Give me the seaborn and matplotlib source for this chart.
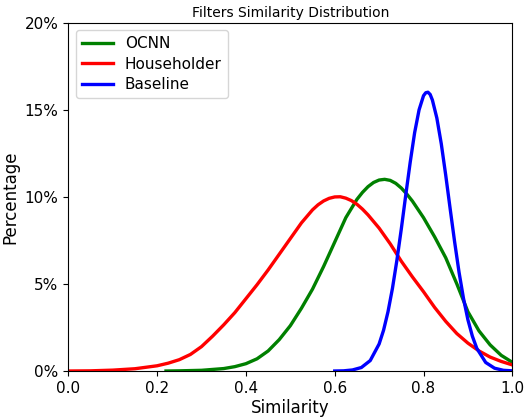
import numpy as np
import pandas as pd
import matplotlib
matplotlib.use('Agg')
import matplotlib.pyplot as plt
from matplotlib.ticker import PercentFormatter
import seaborn as sns

# Values (x = similarity, y = percentage)
ocnn_x = [0.22, 0.25, 0.30, 0.35, 0.375, 0.40, 0.425, 0.45, 0.475, 0.50, 0.525,
          0.55, 0.575, 0.60, 0.625, 0.65, 0.6625, 0.675, 0.6875, 0.70, 0.7125,
          0.725, 0.7375, 0.75, 0.7625, 0.775, 0.80, 0.825, 0.85, 0.875, 0.90,
          0.925, 0.95, 0.975, 1.00]
ocnn_y = [0.0, 0.01, 0.04, 0.14, 0.25, 0.42, 0.7, 1.15, 1.8, 2.6, 3.6,
          4.7, 6.0, 7.4, 8.8, 9.85, 10.25, 10.58, 10.82, 10.96, 11.0,
          10.94, 10.77, 10.5, 10.15, 9.75, 8.8, 7.7, 6.5, 5.0, 3.4,
          2.3, 1.5, 0.9, 0.5]

house_x = [0.00, 0.05, 0.10, 0.15, 0.20, 0.225, 0.25, 0.275, 0.30, 0.325, 0.35,
           0.375, 0.40, 0.425, 0.45, 0.475, 0.50, 0.525, 0.55, 0.5625, 0.575,
           0.5875, 0.60, 0.6125, 0.625, 0.6375, 0.65, 0.6625, 0.675, 0.70,
           0.725, 0.75, 0.775, 0.80, 0.825, 0.85, 0.875, 0.90, 0.925, 0.95,
           0.975, 1.00]
house_y = [0.0, 0.01, 0.05, 0.13, 0.3, 0.45, 0.65, 0.95, 1.4, 2.0, 2.65,
           3.35, 4.15, 4.95, 5.8, 6.7, 7.6, 8.5, 9.25, 9.54, 9.76,
           9.91, 9.99, 10.0, 9.92, 9.78, 9.57, 9.29, 8.96, 8.2,
           7.3, 6.3, 5.4, 4.55, 3.65, 2.85, 2.15, 1.6, 1.15, 0.8,
           0.55, 0.35]

base_x = [0.60, 0.62, 0.64, 0.66, 0.68, 0.70, 0.71, 0.72, 0.73, 0.74, 0.75,
          0.76, 0.77, 0.78, 0.79, 0.80, 0.805, 0.81, 0.815, 0.82, 0.83, 0.84,
          0.85, 0.86, 0.87, 0.88, 0.89, 0.90, 0.91, 0.92, 0.94, 0.96, 0.98, 1.00]
base_y = [0.0, 0.01, 0.06, 0.2, 0.6, 1.55, 2.34, 3.4, 4.74, 6.35, 8.16,
          10.1, 11.98, 13.68, 14.99, 15.8, 15.97, 16.0, 15.87, 15.55, 14.52, 13.04,
          11.24, 9.31, 7.42, 5.67, 4.17, 2.94, 2.0, 1.3, 0.49, 0.16, 0.04, 0.01]

fig = plt.figure(figsize=(5.28, 4.17), dpi=100)
ax = fig.add_axes([0.1294, 0.1103, 0.8409, 0.8357])

sns.lineplot(x=ocnn_x, y=ocnn_y, color='green', lw=2.4, label='OCNN', ax=ax)
sns.lineplot(x=house_x, y=house_y, color='red', lw=2.4, label='Householder', ax=ax)
sns.lineplot(x=base_x, y=base_y, color='blue', lw=2.4, label='Baseline', ax=ax)
for ln in ax.lines:
    ln.set_solid_joinstyle('round')

ax.set_xlim(0, 1)
ax.set_ylim(0, 20)
ax.set_xticks([0.0, 0.2, 0.4, 0.6, 0.8, 1.0])
ax.set_yticks([0, 5, 10, 15, 20])
ax.yaxis.set_major_formatter(PercentFormatter(xmax=100, decimals=0))
ax.tick_params(labelsize=11)
ax.set_title('Filters Similarity Distribution', fontsize=10, pad=4)
ax.set_xlabel('Similarity', fontsize=12, labelpad=2)
ax.set_ylabel('Percentage', fontsize=12)
ax.legend(loc='upper left', fontsize=11, handlelength=2.0, labelspacing=0.35)

fig.savefig('out.png', dpi=100)
